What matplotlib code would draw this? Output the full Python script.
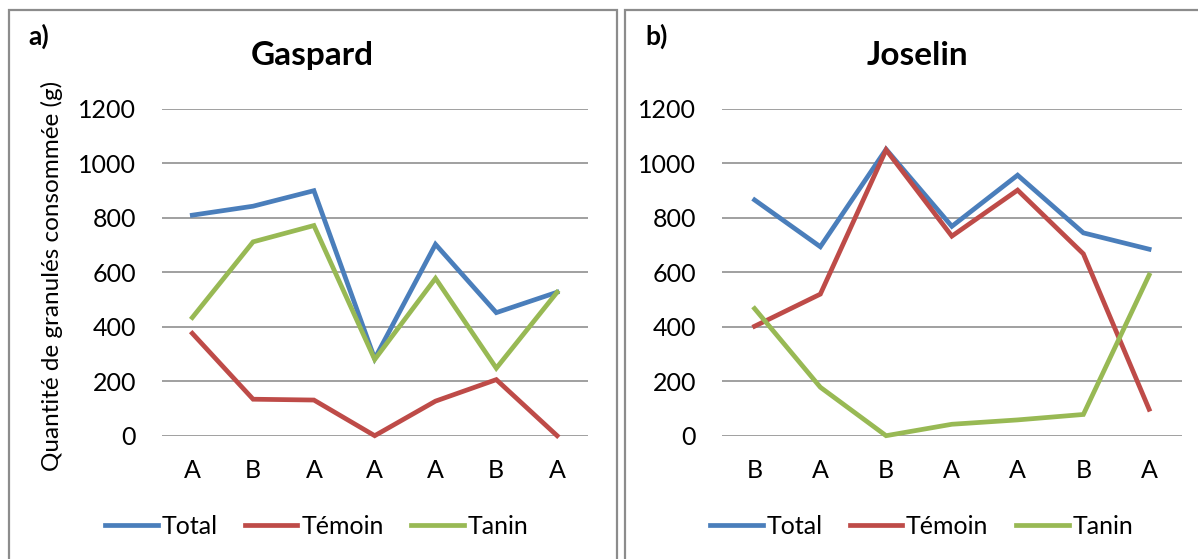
"""Consommation de granulés — Gaspard (a) et Joselin (b)."""

import matplotlib
matplotlib.use("Agg")
import matplotlib.pyplot as plt
from matplotlib.patches import Rectangle

plt.rcParams["font.family"] = ["Lato", "DejaVu Sans"]

# Gaspard
gaspard_cats = ["A", "B", "A", "A", "A", "B", "A"]
gaspard_total = [810, 843, 900, 283, 703, 452, 527]
gaspard_temoin = [376, 134, 131, 0, 127, 206, 0]
gaspard_tanin = [434, 712, 772, 280, 578, 248, 527]

# Joselin
joselin_cats = ["B", "A", "B", "A", "A", "B", "A"]
joselin_total = [866, 694, 1052, 769, 957, 745, 685]
joselin_temoin = [402, 520, 1050, 733, 902, 668, 97]
joselin_tanin = [467, 178, 0, 42, 58, 78, 590]

y_ticks = [0, 200, 400, 600, 800, 1000, 1200]
series_names = ["Total", "Témoin", "Tanin"]
colors = ["#4A7EBB", "#BE4B48", "#98B954"]

W, H = 1198, 559
fig = plt.figure(figsize=(W / 100, H / 100), dpi=100)
fig.patch.set_facecolor("white")

# panel frames (bottom runs off the image)
fig.patches.append(Rectangle((9 / W, -0.1), (617 - 9) / W, 1.1 - 10 / H,
                             transform=fig.transFigure, fill=False,
                             edgecolor="#8c8c8c", linewidth=1.6))
fig.patches.append(Rectangle((625 / W, -0.1), 0.5, 1.1 - 10 / H,
                             transform=fig.transFigure, fill=False,
                             edgecolor="#8c8c8c", linewidth=1.6))


def draw_panel(rect, cats, total, temoin, tanin):
    ax = fig.add_axes(rect)
    x = [i + 0.5 for i in range(len(cats))]
    lines = []
    for vals, c, name in zip([total, temoin, tanin], colors, series_names):
        ln, = ax.plot(x, vals, color=c, linewidth=3.4, label=name,
                      solid_joinstyle="miter", clip_on=False, zorder=3)
        lines.append(ln)
    ax.set_xlim(0, len(cats))
    ax.set_ylim(0, 1200)
    ax.set_yticks(y_ticks)
    ax.set_xticks(x)
    ax.set_xticklabels(cats)
    for s in ax.spines.values():
        s.set_visible(False)
    ax.yaxis.grid(True, color="#868686", linewidth=1.1)
    ax.set_axisbelow(True)
    ax.tick_params(axis="y", length=0, pad=18.5, labelsize=18)
    ax.tick_params(axis="x", length=0, pad=17, labelsize=18)
    ax.set_facecolor("none")
    return ax, lines


ax_a, lines_a = draw_panel([161.9 / W, (H - 435.7) / H, 425.6 / W, 326.7 / H],
                           gaspard_cats, gaspard_total, gaspard_temoin, gaspard_tanin)
ax_b, lines_b = draw_panel([721.7 / W, (H - 435.7) / H, 460.3 / W, 326.7 / H],
                           joselin_cats, joselin_total, joselin_temoin, joselin_tanin)

# titles and panel letters
fig.text(312 / W, (H - 65) / H, "Gaspard", fontsize=24, fontweight="bold",
         ha="center", va="baseline")
fig.text(917 / W, (H - 65) / H, "Joselin", fontsize=24, fontweight="bold",
         ha="center", va="baseline")
fig.text(28 / W, (H - 45) / H, "a)", fontsize=19, fontweight="bold",
         ha="left", va="baseline")
fig.text(645 / W, (H - 45) / H, "b)", fontsize=19, fontweight="bold",
         ha="left", va="baseline")

fig.text(52 / W, (H - 276) / H, "Quantité de granulés consommée (g)",
         fontsize=17.5, rotation=90, ha="center", va="center")

# legends
for lines, cx in [(lines_a, 316.5), (lines_b, 921.5)]:
    fig.legend(handles=lines, loc="center", bbox_to_anchor=(cx / W, (H - 526.7) / H),
               ncol=3, frameon=False, fontsize=18, handlelength=2.1,
               handletextpad=0.15, columnspacing=1.1, borderpad=0)

fig.savefig("out.png", dpi=100)
